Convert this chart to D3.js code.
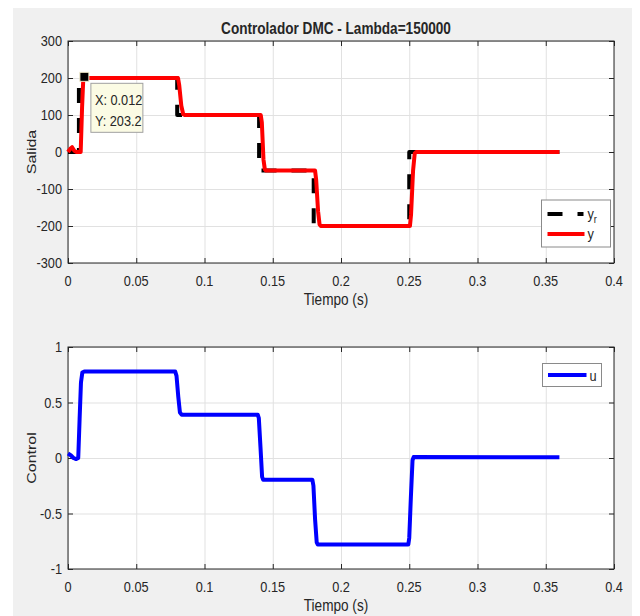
<!DOCTYPE html>
<html>
<head>
<meta charset="utf-8">
<script src="https://cdn.jsdelivr.net/npm/d3@7"></script>
<style>
  body { margin: 0; background: #fff; }
  text { font-family: "Liberation Sans", Arial, Helvetica, sans-serif; fill: #262626; }
</style>
</head>
<body>
<div id="chart"></div>
<script>
// reference (dashed black) and output (red), top plot
const refTime  = [0, 0.008, 0.008, 0.08, 0.08, 0.14, 0.14, 0.18, 0.18, 0.25, 0.25, 0.36];
const refValue = [0, 0, 200, 200, 100, 100, -50, -50, -200, -200, 0, 0];

const yTime  = [0, 0.0015, 0.003, 0.0045, 0.006, 0.0093, 0.0103, 0.0112, 0.012, 0.014,
                0.0806, 0.0815, 0.083, 0.0844, 0.0855, 0.1412, 0.142, 0.1432, 0.1442, 0.145,
                0.181, 0.1818, 0.1832, 0.1843, 0.1852, 0.2505, 0.2513, 0.2528, 0.254, 0.255, 0.36];
const yValue = [0, 8, 13, 4, 0, 0, 120, 198, 203.2, 200,
                200, 180, 125, 102, 100, 100, 80, -20, -47, -50,
                -50, -75, -160, -196, -200, -200, -170, -50, -4, 0, 0];

// control signal, bottom plot
const uTime  = [0, 0.002, 0.004, 0.006, 0.0075, 0.0085, 0.0095, 0.0105, 0.012,
                0.0785, 0.0795, 0.0808, 0.082, 0.0833, 0.139, 0.1398, 0.141, 0.1422, 0.143,
                0.179, 0.1798, 0.181, 0.1822, 0.183, 0.2493, 0.25, 0.2512, 0.2524, 0.2532, 0.36];
const uValue = [0.04, 0.025, 0.0, -0.01, 0.0, 0.35, 0.68, 0.77, 0.78,
                0.78, 0.74, 0.55, 0.41, 0.39, 0.39, 0.36, 0.1, -0.17, -0.195,
                -0.195, -0.25, -0.55, -0.76, -0.78, -0.78, -0.72, -0.35, -0.02, 0.008, 0.006];

const xTicks = [0, 0.05, 0.1, 0.15, 0.2, 0.25, 0.3, 0.35, 0.4];
const topTicks = [-300, -200, -100, 0, 100, 200, 300];
const bottomTicks = [-1, -0.5, 0, 0.5, 1];

const tipPoint = [0.012, 203.2];
const tipLines = ["X: 0.012", "Y: 203.2"];

const SQ = 0.85; // reference text looks horizontally squeezed

const width = 640, height = 616;
const svg = d3.select("#chart").append("svg")
    .attr("width", width)
    .attr("height", height);

svg.append("rect")
    .attr("x", 13).attr("y", 8)
    .attr("width", 619).attr("height", 608)
    .attr("fill", "#f0f0f0");

function makeText(g, x, y, str, size, anchor, weight, rotate) {
    return g.append("text")
        .attr("transform", "translate(" + x + "," + y + ") scale(" + SQ + ",1)" + (rotate ? " rotate(" + rotate + ")" : ""))
        .attr("text-anchor", anchor || "middle")
        .attr("font-size", size)
        .attr("font-weight", weight || "normal")
        .text(str);
}

function makeAxes(left, topY, w, h, yDomain, yTicks) {
    const g = svg.append("g").attr("transform", "translate(" + left + "," + topY + ")");
    const x = d3.scaleLinear().domain([0, 0.4]).range([0, w]);
    const y = d3.scaleLinear().domain(yDomain).range([h, 0]);

    g.append("rect").attr("width", w).attr("height", h).attr("fill", "#fff");

    // grid
    g.append("g").call(d3.axisBottom(x).tickValues(xTicks).tickSize(h).tickFormat(""))
        .call(a => a.select(".domain").remove())
        .selectAll("line").attr("stroke", "#e1e1e1");
    g.append("g").call(d3.axisLeft(y).tickValues(yTicks).tickSize(-w).tickFormat(""))
        .call(a => a.select(".domain").remove())
        .selectAll("line").attr("stroke", "#e1e1e1");

    // inward ticks on all four sides
    const ax = [
        g.append("g").attr("transform", "translate(0," + h + ")").call(d3.axisBottom(x).tickValues(xTicks).tickSize(-5).tickFormat("")),
        g.append("g").call(d3.axisTop(x).tickValues(xTicks).tickSize(-5).tickFormat("")),
        g.append("g").call(d3.axisLeft(y).tickValues(yTicks).tickSize(-5).tickFormat("")),
        g.append("g").attr("transform", "translate(" + w + ",0)").call(d3.axisRight(y).tickValues(yTicks).tickSize(-5).tickFormat(""))
    ];
    ax.forEach(a => {
        a.select(".domain").remove();
        a.selectAll("line").attr("stroke", "#262626");
    });

    g.append("rect").attr("width", w).attr("height", h)
        .attr("fill", "none").attr("stroke", "#262626").attr("stroke-width", 1);

    xTicks.forEach(t => makeText(g, x(t), h + 23, String(t), 15));
    yTicks.forEach(t => makeText(g, -6, y(t) + 5, String(t), 15, "end"));

    return { g: g, x: x, y: y };
}

function makeLine(ax, xs, ys, color, widthPx, dash) {
    const line = d3.line().x(d => ax.x(d[0])).y(d => ax.y(d[1]));
    const path = ax.g.append("path")
        .datum(xs.map((t, i) => [t, ys[i]]))
        .attr("d", line)
        .attr("fill", "none")
        .attr("stroke", color)
        .attr("stroke-width", widthPx)
        .attr("stroke-linejoin", "round");
    if (dash) path.attr("stroke-dasharray", dash);
    return path;
}

// ---- top plot
const topAx = makeAxes(68, 41, 546, 222, [-300, 300], topTicks);
makeLine(topAx, refTime, refValue, "#000", 4, "15,15");
makeLine(topAx, yTime, yValue, "#ff0000", 4);

makeText(svg, 336, 34, "Controlador DMC - Lambda=150000", 16, "middle", "bold");
makeText(svg, 336, 305, "Tiempo (s)", 16);
makeText(svg, 36, 152, "Salida", 16, "middle", "normal", -90);

// data tip
const tx = topAx.x(tipPoint[0]), ty = topAx.y(tipPoint[1]);
topAx.g.append("rect")
    .attr("x", tx - 4.5).attr("y", ty - 4.5).attr("width", 9).attr("height", 9)
    .attr("fill", "#000").attr("stroke", "#f2eccc").attr("stroke-width", 1);
topAx.g.append("rect")
    .attr("x", tx + 6.5).attr("y", ty + 6.5).attr("width", 52).attr("height", 49)
    .attr("fill", "#fbfbe4").attr("stroke", "#a0a0a0").attr("stroke-width", 1);
tipLines.forEach((s, i) => makeText(topAx.g, tx + 10.5, ty + 28 + i * 21, s, 15, "start").attr("fill", "#111"));

// top legend
const lg = svg.append("g").attr("transform", "translate(541.5,200)");
lg.append("rect").attr("width", 69).attr("height", 47)
    .attr("fill", "#fff").attr("stroke", "#8a8a8a");
lg.append("line").attr("x1", 6).attr("x2", 42).attr("y1", 14).attr("y2", 14)
    .attr("stroke", "#000").attr("stroke-width", 4).attr("stroke-dasharray", "15,15");
lg.append("line").attr("x1", 6).attr("x2", 43).attr("y1", 34).attr("y2", 34)
    .attr("stroke", "#ff0000").attr("stroke-width", 4);
const yr = makeText(lg, 46, 19, "y", 15, "start");
yr.append("tspan").attr("dy", 4).attr("font-size", 11).text("r");
makeText(lg, 46, 39, "y", 15, "start");

// ---- bottom plot
const botAx = makeAxes(68, 347, 546, 222, [-1, 1], bottomTicks);
makeLine(botAx, uTime, uValue, "#0000ff", 4);

makeText(svg, 336, 611, "Tiempo (s)", 16);
makeText(svg, 36, 458, "Control", 16, "middle", "normal", -90);

const lg2 = svg.append("g").attr("transform", "translate(542.5,363.5)");
lg2.append("rect").attr("width", 59).attr("height", 23)
    .attr("fill", "#fff").attr("stroke", "#8a8a8a");
lg2.append("line").attr("x1", 5.5).attr("x2", 44).attr("y1", 11.5).attr("y2", 11.5)
    .attr("stroke", "#0000ff").attr("stroke-width", 4);
makeText(lg2, 47, 17, "u", 15, "start");
</script>
</body>
</html>
